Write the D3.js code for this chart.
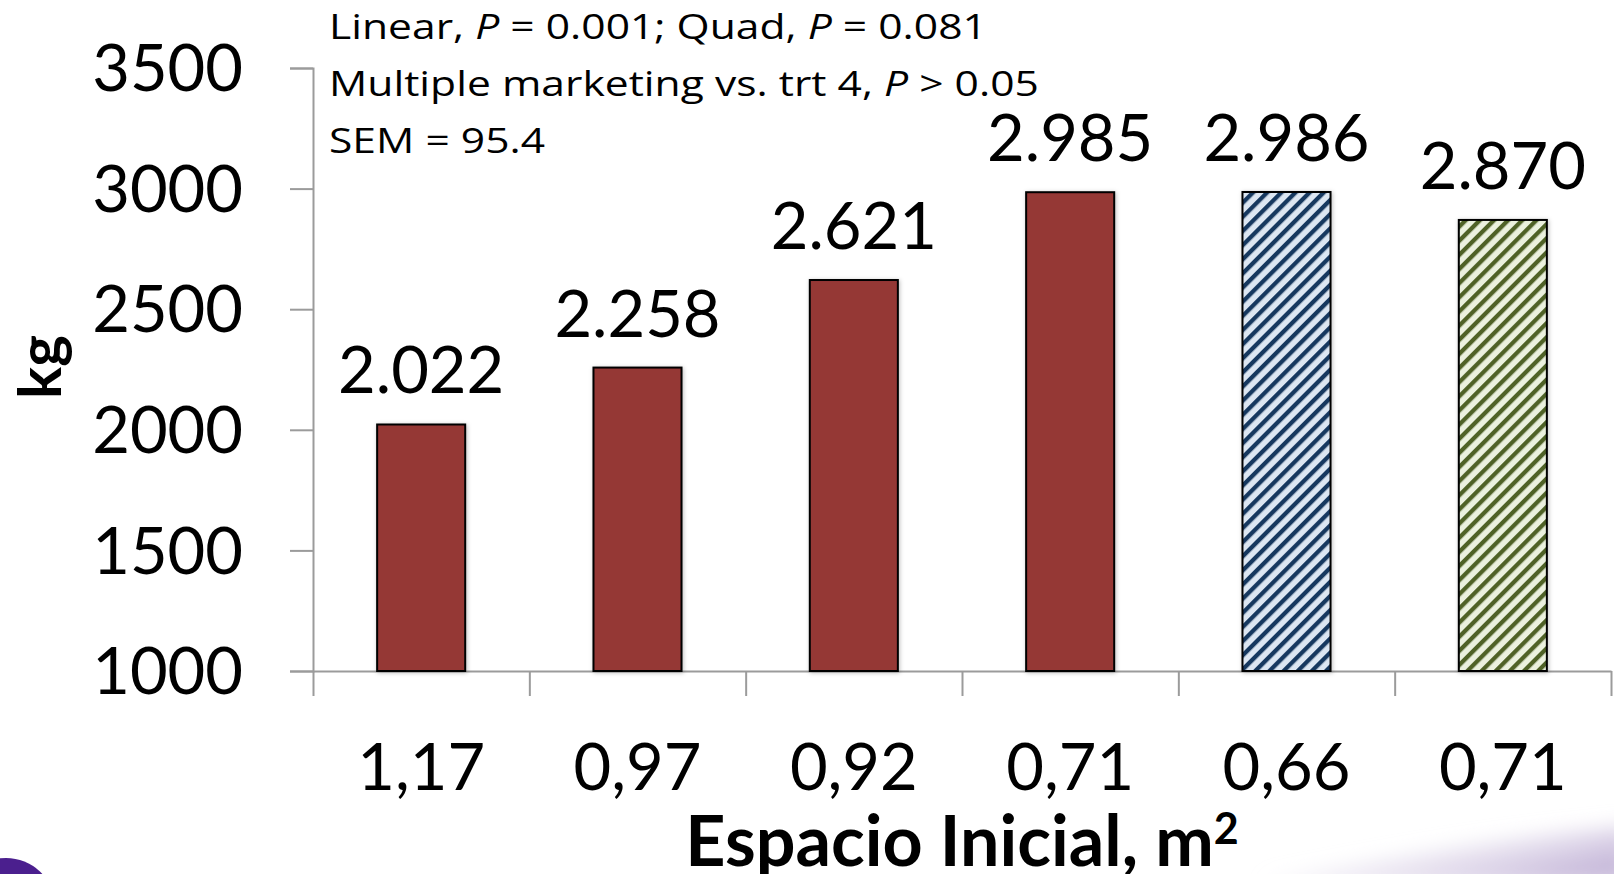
<!DOCTYPE html>
<html>
<head>
<meta charset="utf-8">
<script src="https://cdn.jsdelivr.net/npm/d3@7/dist/d3.min.js"></script>
<style>
  html, body { margin: 0; padding: 0; background: #fff; }
  svg { display: block; font-family: Lato, "Open Sans", sans-serif; }
</style>
</head>
<body>
<svg id="chart" width="1614" height="874"></svg>
<script>
// Initial space allowance per pig (m²) for each treatment
const categories = ["1,17", "0,97", "0,92", "0,71", "0,66", "0,71"];
// Final weight per pen (kg)
const values = [2022, 2258, 2621, 2985, 2986, 2870];
// Which fill each treatment uses
const groups = ["single", "single", "single", "single", "multiA", "multiB"];
const yTicks = [1000, 1500, 2000, 2500, 3000, 3500];
const notes = [
  [["Linear, ", false], ["P", true], [" = 0.001; Quad, ", false], ["P", true], [" = 0.081", false]],
  [["Multiple marketing vs. trt 4, ", false], ["P", true], [" > 0.05", false]],
  [["SEM = 95.4", false]]
];

(function draw() {
const svg = d3.select("#chart");
const W = 1614, H = 874;
const plotL = 313, plotR = 1611, plotT = 68, plotB = 671;

svg.append("rect").attr("width", W).attr("height", H).attr("fill", "#fff");

const defs = svg.append("defs");

// Soft shadow behind the bars
const shadow = defs.append("filter").attr("id", "barShadow")
  .attr("x", "-10%").attr("y", "-5%").attr("width", "120%").attr("height", "110%");
shadow.append("feDropShadow").attr("dx", 1).attr("dy", 1)
  .attr("stdDeviation", 2).attr("flood-color", "#000").attr("flood-opacity", 0.25);

// Diagonal hatching for the multiple-marketing treatments
function hatch(id, bg, fg) {
  const p = defs.append("pattern").attr("id", id)
    .attr("patternUnits", "userSpaceOnUse")
    .attr("width", 10).attr("height", 10)
    .attr("patternTransform", "rotate(45)");
  p.append("rect").attr("width", 10).attr("height", 10).attr("fill", bg);
  p.append("rect").attr("width", 4.3).attr("height", 10).attr("fill", fg);
}
hatch("hatchBlue", "#dce6f2", "#17375e");
hatch("hatchGreen", "#ebf1de", "#4f6228");

const fillFor = { single: "#953735", multiA: "url(#hatchBlue)", multiB: "url(#hatchGreen)" };

// Slide decorations along the bottom edge
const soft = defs.append("filter").attr("id", "soft")
  .attr("x", "-20%").attr("y", "-50%").attr("width", "140%").attr("height", "200%");
soft.append("feGaussianBlur").attr("stdDeviation", 10);
const lav = defs.append("linearGradient").attr("id", "lavender")
  .attr("x1", 0).attr("y1", 0).attr("x2", 1).attr("y2", 0.6);
lav.append("stop").attr("offset", "0%").attr("stop-color", "#ffffff").attr("stop-opacity", 0);
lav.append("stop").attr("offset", "100%").attr("stop-color", "#c6b8d9");
svg.append("path")
  .attr("d", "M1260,884 C1420,850 1520,836 1630,826 L1630,884 Z")
  .attr("fill", "url(#lavender)").attr("filter", "url(#soft)");
svg.append("ellipse").attr("cx", 6).attr("cy", 904).attr("rx", 48).attr("ry", 46)
  .attr("fill", "#4b1f8e");

// Scales
const x = d3.scaleBand().domain(d3.range(categories.length)).range([plotL, plotR]).padding(0);
const xEdge = d3.scaleLinear().domain([0, categories.length]).range([plotL, plotR]);
const y = d3.scaleLinear().domain([1000, 3500]).range([plotB, plotT]);
const barW = x.bandwidth() * 0.407;

const axisColor = "#9b9b9b";

// Y axis
const yAxis = svg.append("g").attr("transform", `translate(${plotL},0)`)
  .call(d3.axisLeft(y).tickValues(yTicks).tickSize(23).tickSizeOuter(23).tickPadding(47)
    .tickFormat(d3.format("d")));
yAxis.selectAll("path, line").attr("stroke", axisColor).attr("stroke-width", 2);
yAxis.selectAll("text").attr("font-size", 65).attr("fill", "#000")
  .attr("font-family", "Lato, sans-serif").attr("dy", "0.35em");

// X axis: boundary ticks between categories
const xAxis = svg.append("g").attr("transform", `translate(0,${plotB})`)
  .call(d3.axisBottom(xEdge).tickValues(d3.range(categories.length + 1))
    .tickSize(25).tickSizeOuter(0).tickFormat(""));
xAxis.selectAll("path, line").attr("stroke", axisColor).attr("stroke-width", 2);

// X axis: category labels
const xLab = svg.append("g").attr("transform", `translate(0,${plotB})`)
  .call(d3.axisBottom(x).tickSize(0).tickPadding(0).tickFormat(i => categories[i]));
xLab.select(".domain").remove();
xLab.selectAll("text").attr("font-size", 65).attr("fill", "#000")
  .attr("font-family", "Lato, sans-serif").attr("dy", 0).attr("y", 119);

// Bars
svg.append("g").selectAll("rect").data(values).join("rect")
  .attr("x", (d, i) => x(i) + (x.bandwidth() - barW) / 2)
  .attr("y", d => y(d))
  .attr("width", barW)
  .attr("height", d => y(1000) - y(d))
  .attr("fill", (d, i) => fillFor[groups[i]])
  .attr("stroke", "#000").attr("stroke-width", 2)
  .attr("filter", "url(#barShadow)");

// Value labels
const fmt = d3.formatLocale({ decimal: ",", thousands: ".", grouping: [3], currency: ["", ""] }).format(",");
svg.append("g").selectAll("text").data(values).join("text")
  .attr("x", (d, i) => x(i) + x.bandwidth() / 2)
  .attr("y", d => y(d) - 31)
  .attr("text-anchor", "middle")
  .attr("font-size", 65).attr("fill", "#000")
  .text(d => fmt(d));

// Statistics notes (set slightly wide)
const noteG = svg.append("g").attr("font-family", "'Open Sans', sans-serif")
  .attr("transform", "translate(329,0) scale(1.235,1)");
notes.forEach((parts, li) => {
  const t = noteG.append("text").attr("x", 0).attr("y", 39 + li * 57)
    .attr("font-size", 34.5).attr("fill", "#000");
  parts.forEach(([s, it]) => {
    t.append("tspan").attr("font-style", it ? "italic" : "normal").text(s);
  });
});

// Axis titles
const xTitle = svg.append("text").attr("x", (plotL + plotR) / 2).attr("y", 866)
  .attr("text-anchor", "middle").attr("font-size", 70).attr("font-weight", 700)
  .attr("font-family", "Lato, sans-serif");
xTitle.append("tspan").text("Espacio Inicial, m");
xTitle.append("tspan").attr("font-size", 43).attr("dy", -22).text("2");

svg.append("text").attr("transform", "translate(61,367) rotate(-90)")
  .attr("text-anchor", "middle").attr("font-size", 60).attr("font-weight", 700)
  .text("kg");
})();
</script>
</body>
</html>
